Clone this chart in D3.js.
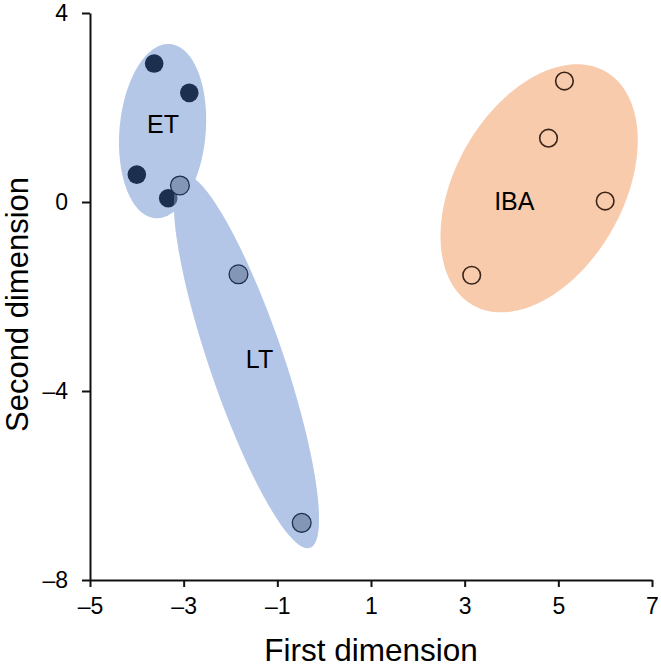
<!DOCTYPE html>
<html>
<head>
<meta charset="utf-8">
<script src="https://cdn.jsdelivr.net/npm/d3@7"></script>
<style>
  html, body { margin: 0; padding: 0; background: #fff; }
  svg { display: block; }
  text { font-family: "Liberation Sans", Arial, Helvetica, sans-serif; fill: #000; }
</style>
</head>
<body>
<svg id="chart" width="661" height="667"></svg>
<script>
// ---------- data ----------
const xTicks = [-5, -3, -1, 1, 3, 5, 7];
const yTicks = [-8, -4, 0, 4];

// Early T (ET) scores
const etX = [-3.63, -2.88, -4.00, -3.33];
const etY = [2.93, 2.31, 0.58, 0.08];
// Late T (LT) scores
const ltX = [-3.08, -1.83, -0.48];
const ltY = [0.35, -1.53, -6.79];
// IBA scores
const ibaX = [5.13, 4.79, 6.00, 3.15];
const ibaY = [2.56, 1.35, 0.02, -1.55];

// group ellipses (data units): centre, semi-major, semi-minor, tilt (deg, + leans right)
const groupNames = ["ET", "LT", "IBA"];
const ellCX   = [-3.45, -1.66, 4.59];
const ellCY   = [1.50, -3.375, 0.29];
const ellA    = [1.85, 4.17, 2.85];
const ellB    = [0.92, 0.79, 1.79];
const ellTilt = [5, -19, 30];

// group label anchors (data units)
const labelX = [-3.44, -1.38, 4.06];
const labelY = [1.47, -3.51, -0.165];

(function () {
const svg = d3.select("#chart");
const mLeft = 90, mRight = 652, mTop = 13, mBottom = 580;

const x = d3.scaleLinear().domain([-5, 7]).range([mLeft, mRight]);
const y = d3.scaleLinear().domain([-8, 4]).range([mBottom, mTop]);

const BLUE_FILL = "#b4c7e7";
const ORANGE_FILL = "#f8cbad";
const NAVY = "#1d2f4f";
const LT_FILL = "#8496b5";
const BROWN = "#3a2418";

function ellipsePath(i) {
  const th = ellTilt[i] * Math.PI / 180;
  const mx = Math.sin(th), my = Math.cos(th);   // major direction
  const nx = Math.cos(th), ny = -Math.sin(th);  // minor direction
  const pts = d3.range(0, 181).map(k => {
    const t = k / 180 * 2 * Math.PI;
    const u = ellA[i] * Math.cos(t), v = ellB[i] * Math.sin(t);
    return [ellCX[i] + u * mx + v * nx, ellCY[i] + u * my + v * ny];
  });
  return d3.line().x(d => x(d[0])).y(d => y(d[1]))(pts) + "Z";
}

const fills = [BLUE_FILL, BLUE_FILL, ORANGE_FILL];

svg.append("g").selectAll("path")
  .data(groupNames)
  .join("path")
  .attr("d", (d, i) => ellipsePath(i))
  .attr("fill", (d, i) => fills[i]);

svg.append("g").selectAll("circle")
  .data(etX.map((v, i) => [v, etY[i]]))
  .join("circle")
  .attr("cx", d => x(d[0]))
  .attr("cy", d => y(d[1]))
  .attr("r", 9.3)
  .attr("fill", NAVY);

svg.append("path")
  .attr("d", ellipsePath(1))
  .attr("fill", BLUE_FILL)
  .attr("fill-opacity", 0.35);

svg.append("g").selectAll("circle")
  .data(ltX.map((v, i) => [v, ltY[i]]))
  .join("circle")
  .attr("cx", d => x(d[0]))
  .attr("cy", d => y(d[1]))
  .attr("r", 9.4)
  .attr("fill", LT_FILL)
  .attr("stroke", NAVY)
  .attr("stroke-width", 1.3);

svg.append("g").selectAll("circle")
  .data(ibaX.map((v, i) => [v, ibaY[i]]))
  .join("circle")
  .attr("cx", d => x(d[0]))
  .attr("cy", d => y(d[1]))
  .attr("r", 8.8)
  .attr("fill", "none")
  .attr("stroke", BROWN)
  .attr("stroke-width", 1.6);

svg.append("g").selectAll("text")
  .data(groupNames)
  .join("text")
  .attr("x", (d, i) => x(labelX[i]))
  .attr("y", (d, i) => y(labelY[i]))
  .attr("text-anchor", "middle")
  .attr("font-size", 25)
  .text(d => d);

const fmt = d => (d < 0 ? "\u2013" + Math.abs(d) : String(d));

const xAxis = svg.append("g")
  .attr("transform", `translate(0,${mBottom})`)
  .call(d3.axisBottom(x).tickValues(xTicks).tickFormat(fmt).tickSize(7).tickSizeOuter(0).tickPadding(11));

const yAxis = svg.append("g")
  .attr("transform", `translate(${mLeft},0)`)
  .call(d3.axisLeft(y).tickValues(yTicks).tickFormat(fmt).tickSize(8).tickSizeOuter(0).tickPadding(14));

[xAxis, yAxis].forEach(g => {
  g.select(".domain").attr("stroke", "#111").attr("stroke-width", 2);
  g.selectAll(".tick line").attr("stroke", "#111").attr("stroke-width", 2);
  g.selectAll(".tick text")
    .attr("font-size", 23)
    .attr("font-family", "'Liberation Sans', Arial, sans-serif")
    .attr("fill", "#000");
});

svg.append("text")
  .attr("x", (mLeft + mRight) / 2)
  .attr("y", 661)
  .attr("text-anchor", "middle")
  .attr("font-size", 31.5)
  .text("First dimension");

svg.append("text")
  .attr("transform", `translate(28,${(mTop + mBottom) / 2 + 8}) rotate(-90)`)
  .attr("text-anchor", "middle")
  .attr("font-size", 31)
  .text("Second dimension");
})();
</script>
</body>
</html>
